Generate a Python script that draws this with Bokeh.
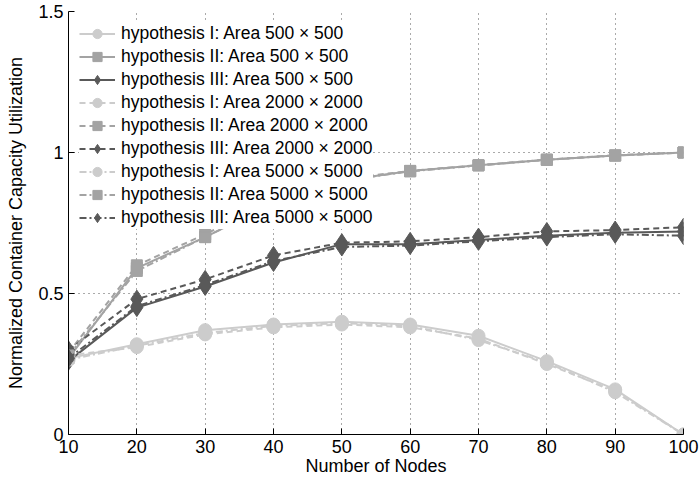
from bokeh.plotting import figure
from bokeh.models import FixedTicker, CustomJSTickFormatter, Range1d
from bokeh.embed import file_html
from bokeh.resources import INLINE

nodes = [10, 20, 30, 40, 50, 60, 70, 80, 90, 100]

# hypothesis I (circles)
h1_500 = [0.27, 0.32, 0.37, 0.39, 0.40, 0.39, 0.35, 0.26, 0.16, 0.00]
h1_2000 = [0.28, 0.31, 0.355, 0.38, 0.39, 0.38, 0.34, 0.25, 0.155, 0.00]
h1_5000 = [0.265, 0.315, 0.36, 0.385, 0.395, 0.385, 0.335, 0.255, 0.15, 0.00]
# hypothesis II (squares)
h2_500 = [0.27, 0.59, 0.70, 0.82, 0.90, 0.934, 0.955, 0.974, 0.989, 1.00]
h2_2000 = [0.29, 0.60, 0.71, 0.83, 0.905, 0.935, 0.955, 0.975, 0.99, 1.00]
h2_5000 = [0.28, 0.58, 0.70, 0.82, 0.90, 0.933, 0.954, 0.974, 0.989, 1.00]
# hypothesis III (diamonds)
h3_500 = [0.26, 0.45, 0.525, 0.61, 0.675, 0.675, 0.69, 0.705, 0.715, 0.72]
h3_2000 = [0.30, 0.48, 0.55, 0.635, 0.68, 0.685, 0.70, 0.72, 0.725, 0.735]
h3_5000 = [0.27, 0.455, 0.53, 0.615, 0.665, 0.67, 0.685, 0.70, 0.71, 0.705]

x_ticks = [10, 20, 30, 40, 50, 60, 70, 80, 90, 100]
y_ticks = [0, 0.5, 1, 1.5]

FONT = "Liberation Sans"

p = figure(width=699, height=484, output_backend="svg", toolbar_location=None,
           x_range=Range1d(10, 100), y_range=Range1d(0, 1.5),
           min_border_left=68, min_border_right=16, min_border_top=11,
           min_border_bottom=50)
p.outline_line_color = None
p.background_fill_color = "white"
p.border_fill_color = "white"

series = [
    ("hypothesis I: Area 500 \u00d7 500", h1_500, "#cccccc", "circle", 13, "solid"),
    ("hypothesis II: Area 500 \u00d7 500", h2_500, "#a3a3a3", "square", 11, "solid"),
    ("hypothesis III: Area 500 \u00d7 500", h3_500, "#595959", "diamond", 18, "solid"),
    ("hypothesis I: Area 2000 \u00d7 2000", h1_2000, "#cccccc", "circle", 13, "6 4"),
    ("hypothesis II: Area 2000 \u00d7 2000", h2_2000, "#a3a3a3", "square", 11, "6 4"),
    ("hypothesis III: Area 2000 \u00d7 2000", h3_2000, "#595959", "diamond", 18, "6 4"),
    ("hypothesis I: Area 5000 \u00d7 5000", h1_5000, "#cccccc", "circle", 13, "7 3 2 3"),
    ("hypothesis II: Area 5000 \u00d7 5000", h2_5000, "#a3a3a3", "square", 11, "7 3 2 3"),
    ("hypothesis III: Area 5000 \u00d7 5000", h3_5000, "#595959", "diamond", 18, "7 3 2 3"),
]

for label, ys, color, marker, size, dash in series:
    p.line(nodes, ys, line_color=color, line_width=2, line_dash=dash, legend_label=label)
    p.scatter(nodes, ys, marker=marker, size=size, fill_color=color, line_color=color,
              legend_label=label)

# axes
for ax in (p.xaxis[0], p.yaxis[0]):
    ax.major_tick_in = 6
    ax.major_tick_out = 0
    ax.minor_tick_in = 0
    ax.minor_tick_out = 0
    ax.axis_line_color = "black"
    ax.axis_line_width = 1
    ax.major_tick_line_color = "black"
    ax.major_label_text_font = FONT
    ax.major_label_text_font_size = "18px"
    ax.major_label_text_color = "black"
    ax.axis_label_text_font = FONT
    ax.axis_label_text_font_size = "18px"
    ax.axis_label_text_font_style = "normal"
    ax.axis_label_text_color = "black"

p.xaxis.ticker = FixedTicker(ticks=x_ticks)
p.yaxis.ticker = FixedTicker(ticks=y_ticks)
p.yaxis.formatter = CustomJSTickFormatter(code="return tick.toString();")
p.xaxis.axis_label = "Number of Nodes"
p.yaxis.axis_label = "Normalized Container Capacity Utilization"
p.xaxis.major_label_standoff = 5
p.yaxis.major_label_standoff = 5
p.xaxis.axis_label_standoff = 0
p.yaxis.axis_label_standoff = 9

# grid
for g in (p.xgrid[0], p.ygrid[0]):
    g.grid_line_color = "#555555"
    g.grid_line_dash = "1 4"
    g.grid_line_width = 1

# legend
lg = p.legend[0]
lg.location = "top_left"
lg.margin = 11
lg.padding = 10
lg.spacing = 0
lg.glyph_width = 36
lg.glyph_height = 23
lg.label_height = 23
lg.label_standoff = 6
lg.label_text_font = FONT
lg.label_text_font_size = "17.5px"
lg.label_text_color = "black"
lg.border_line_color = None
lg.background_fill_color = "white"
lg.background_fill_alpha = 1.0

open("out.html", "w").write(file_html(p, INLINE))
